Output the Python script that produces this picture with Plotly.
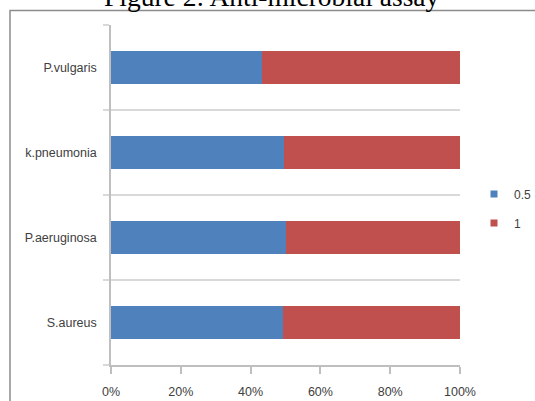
import plotly.graph_objects as go

# Data (percent of each bar)
organisms = ["S.aureus", "P.aeruginosa", "k.pneumonia", "P.vulgaris"]
series_names = ["0.5", "1"]
values_05 = [49.2, 50.1, 49.5, 43.2]
values_1 = [50.8, 49.9, 50.5, 56.8]
x_tick_vals = [0, 20, 40, 60, 80, 100]
x_tick_text = ["0%", "20%", "40%", "60%", "80%", "100%"]
title_text = "Figure 2: Anti-microbial assay"

BLUE = "#4F81BD"
RED = "#C0504D"
TXT = "#404040"
FONT = "Liberation Sans"

fig = go.Figure()
fig.add_trace(go.Bar(y=organisms, x=values_05, orientation="h", marker=dict(color=BLUE, line=dict(width=0)),
                     name=series_names[0], showlegend=False))
fig.add_trace(go.Bar(y=organisms, x=values_1, orientation="h", marker=dict(color=RED, line=dict(width=0)),
                     name=series_names[1], showlegend=False))
# legend entries with small square markers
for nm, col in zip(series_names, [BLUE, RED]):
    fig.add_trace(go.Scatter(x=[None], y=[None], mode="markers", name=nm, legendgroup=nm,
                             marker=dict(symbol="square", size=7, color=col)))

W, H = 535, 401
L, R, T, B = 111, 75, 25, 36
pw, ph = W - L - R, H - T - B

def px_x(p):
    return (p - L) / pw

def px_y(p):
    return (H - B - p) / ph

fig.update_layout(
    width=W, height=H,
    margin=dict(l=L, r=R, t=T, b=B, autoexpand=False),
    paper_bgcolor="white", plot_bgcolor="white",
    barmode="stack", bargap=0.61,
    font=dict(family=FONT, size=12, color=TXT),
    showlegend=True,
    legend=dict(x=px_x(474), y=px_y(208.5), xanchor="left", yanchor="middle",
                tracegroupgap=10, font=dict(family=FONT, size=12, color=TXT),
                bgcolor="rgba(0,0,0,0)"),
    xaxis=dict(range=[0, 100], tickvals=x_tick_vals, ticktext=x_tick_text,
               showgrid=False, zeroline=False, showline=True, linecolor="#BFBFBF", linewidth=1.5,
               ticks="outside", ticklen=7, tickcolor="#BFBFBF", tickwidth=1.5,
               ticklabelstandoff=7,
               tickfont=dict(family=FONT, size=12.5, color=TXT), fixedrange=True),
    yaxis=dict(type="category", categoryorder="array", categoryarray=organisms,
               tickson="boundaries", showgrid=True, gridcolor="#D9D9D9", gridwidth=1.5,
               ticks="outside", ticklen=6, tickcolor="#D9D9D9", tickwidth=1.5,
               showline=True, linecolor="#BFBFBF", linewidth=1.5,
               ticklabelstandoff=10,
               tickfont=dict(family=FONT, size=12.5, color=TXT), fixedrange=True),
    shapes=[dict(type="rect", xref="paper", yref="paper",
                 x0=px_x(10), x1=px_x(545), y0=px_y(410), y1=px_y(10.5),
                 line=dict(color="#8C8C8C", width=1.5), fillcolor="rgba(0,0,0,0)", layer="below")],
    annotations=[dict(text=title_text, xref="paper", yref="paper", x=px_x(272), y=px_y(14),
                      xanchor="center", yanchor="bottom", showarrow=False,
                      font=dict(family="Liberation Serif", size=27.5, color="black"))],
)

fig.write_html("out.html")
